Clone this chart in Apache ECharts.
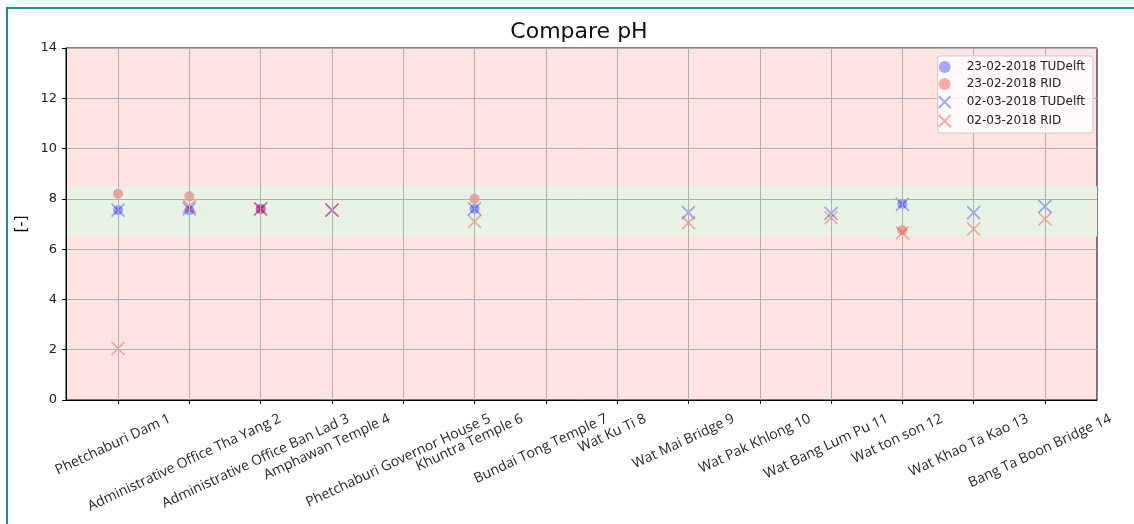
<!DOCTYPE html>
<html>
<head>
<meta charset="utf-8">
<script src="https://cdn.jsdelivr.net/npm/echarts@6/dist/echarts.min.js"></script>
<style>
    html, body { margin: 0; padding: 0; background: #fff; }
    #chart { position: absolute; left: 0; top: 0; width: 1134px; height: 524px; }
    #frame { position: absolute; left: 6px; top: 7px; width: 1140px; height: 540px; border: 2px solid #169494; pointer-events: none; }
</style>
</head>
<body>
<div id="chart"></div>
<div id="frame"></div>
<script>
// stations along the river
const stations = [
    'Phetchaburi Dam 1', 'Administrative Office Tha Yang 2', 'Administrative Office Ban Lad 3',
    'Amphawan Temple 4', 'Phetchaburi Governor House 5', 'Khuntra Temple 6', 'Bundai Tong Temple 7',
    'Wat Ku Ti 8', 'Wat Mai Bridge 9', 'Wat Pak Khlong 10', 'Wat Bang Lum Pu 11', 'Wat ton son 12',
    'Wat Khao Ta Kao 13', 'Bang Ta Boon Bridge 14'
];
const seriesNames = ['23-02-2018 TUDelft', '23-02-2018 RID', '02-03-2018 TUDelft', '02-03-2018 RID'];
const tudelft2302 = [7.55, 7.55, 7.6, null, null, 7.6, null, null, null, null, null, 7.8, null, null];
const rid2302     = [8.2, 8.1, 7.6, null, null, 8.0, null, null, null, null, null, 6.75, null, null];
const tudelft0203 = [7.55, 7.6, 7.6, 7.55, null, 7.6, null, null, 7.45, null, 7.42, 7.78, 7.45, 7.7];
const rid0203     = [2.05, 7.7, 7.6, 7.55, null, 7.1, null, null, 7.05, null, 7.25, 6.65, 6.8, 7.2];
const yTicks = [0, 2, 4, 6, 8, 10, 12, 14];
const okBand = [6.5, 8.5];

const blue = 'rgba(0, 0, 255, 0.42)';
const red = 'rgba(255, 0, 0, 0.42)';
const crossPath = 'path://M0,0L10,10M10,0L0,10';

const toPoints = arr => arr.map((v, i) => [i, v]).filter(p => p[1] !== null);
const idx = stations.map((s, i) => i);

// matplotlib-like centered rotated labels: push each label down by half its rotated height
const labelSize = 14;
const ang = 25 * Math.PI / 180;
const nudgeLeft = 5;
const ctx = document.createElement('canvas').getContext('2d');
ctx.font = labelSize + 'px "Open Sans"';
const rich = {};
stations.forEach((s, i) => {
    const L = ctx.measureText(s).width;
    const D = L * Math.sin(ang) / 2;
    const a = D * Math.sin(ang) + nudgeLeft * Math.cos(ang);
    const b = D * Math.cos(ang) - nudgeLeft * Math.sin(ang);
    rich['l' + i] = {
        fontFamily: 'Open Sans', fontSize: labelSize, color: '#262626',
        padding: [2 * b, 2 * a, 0, 0]
    };
});

const mChart = echarts.init(document.getElementById('chart'));

const crossSeries = (name, data, color) => ({
    name: name, type: 'scatter', data: toPoints(data),
    symbol: crossPath, symbolSize: 13,
    itemStyle: { color: 'rgba(0,0,0,0)', borderColor: color, borderWidth: 1.6 },
    emphasis: { disabled: true }
});
const dotSeries = (name, data, color) => ({
    name: name, type: 'scatter', data: toPoints(data),
    symbol: 'circle', symbolSize: 10,
    itemStyle: { color: color },
    emphasis: { disabled: true }
});

const options = {
    animation: false,
    title: {
        text: 'Compare pH',
        left: 574, top: 16, textAlign: 'center',
        textStyle: { fontFamily: 'DejaVu Sans', fontSize: 22, fontWeight: 'normal', color: '#111' }
    },
    legend: {
        orient: 'vertical', right: 41, top: 56,
        padding: [5, 8, 5, 0], itemGap: 5, itemWidth: 34, itemHeight: 12,
        backgroundColor: 'rgba(255,255,255,0.8)', borderColor: '#cccccc', borderWidth: 1, borderRadius: 3,
        textStyle: { fontFamily: 'DejaVu Sans', fontSize: 12, color: '#222' },
        data: seriesNames
    },
    grid: {
        left: 66, right: 37, top: 48, bottom: 124,
        show: true, backgroundColor: '#ffe3e3', borderColor: '#000', borderWidth: 1
    },
    xAxis: {
        type: 'value', min: -0.73, max: 13.73, z: 3,
        axisLine: { show: true, onZero: false, lineStyle: { color: '#000' } },
        axisTick: { show: true, length: 4, customValues: idx, lineStyle: { color: '#000' } },
        axisLabel: {
            customValues: idx, rotate: 25, align: 'center', verticalAlign: 'middle', margin: 18,
            fontFamily: 'Open Sans', fontSize: labelSize, color: '#262626',
            formatter: v => '{l' + v + '|' + stations[v] + '}',
            rich: rich
        },
        splitLine: { show: true, lineStyle: { color: '#b0b0b0', width: 1 } }
    },
    yAxis: {
        type: 'value', min: 0, max: 14, interval: 2, z: 3,
        name: '[-]', nameLocation: 'middle', nameGap: 26, nameRotate: 90,
        nameTextStyle: { fontFamily: 'DejaVu Sans', fontSize: 15, color: '#111' },
        axisLine: { show: true, onZero: false, lineStyle: { color: '#000' } },
        axisTick: { show: true, length: 4, lineStyle: { color: '#000' } },
        axisLabel: {
            fontFamily: 'DejaVu Sans', fontSize: 13, color: '#222', margin: 9,
            formatter: v => yTicks.includes(v) ? String(v) : ''
        },
        splitLine: { show: true, lineStyle: { color: '#b0b0b0', width: 1 } }
    },
    series: [
        Object.assign(dotSeries(seriesNames[0], tudelft2302, blue), {
            markArea: {
                silent: true,
                itemStyle: { color: '#e8f3e5' },
                data: [[{ yAxis: okBand[0] }, { yAxis: okBand[1] }]]
            }
        }),
        dotSeries(seriesNames[1], rid2302, red),
        crossSeries(seriesNames[2], tudelft0203, blue),
        crossSeries(seriesNames[3], rid0203, red)
    ]
};

mChart.setOption(options);
</script>
</body>
</html>
